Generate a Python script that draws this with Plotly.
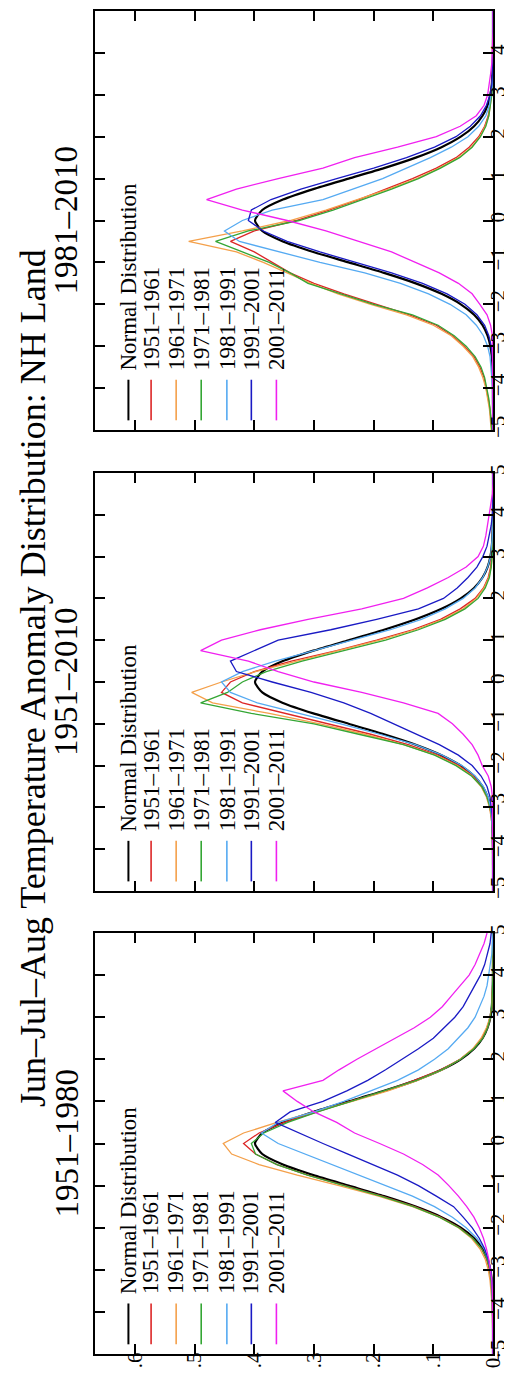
import plotly.graph_objects as go

# ---------------- data ----------------
temps = [-5, -4.75, -4.5, -4.25, -4, -3.75, -3.5, -3.25, -3, -2.75, -2.5, -2.25, -2, -1.75, -1.5,
         -1.25, -1, -0.75, -0.5, -0.25, 0, 0.25, 0.5, 0.75, 1, 1.25, 1.5, 1.75, 2, 2.25, 2.5,
         2.75, 3, 3.25, 3.5, 3.75, 4, 4.25, 4.5, 4.75, 5]

normal_dist = [0, 0, 0, 0.0001, 0.0001, 0.0004, 0.0009, 0.002, 0.0044, 0.0091, 0.0175, 0.0317, 0.054,
               0.0863, 0.1295, 0.1826, 0.242, 0.3011, 0.3521, 0.3867, 0.3989, 0.3867, 0.3521, 0.3011,
               0.242, 0.1826, 0.1295, 0.0863, 0.054, 0.0317, 0.0175, 0.0091, 0.0044, 0.002, 0.0009,
               0.0004, 0.0001, 0.0001, 0, 0, 0]

# Panel "1951-1980"
base1980_1951_1961 = [0, 0, 0, 0, 0.001, 0.001, 0.002, 0.003, 0.006, 0.011, 0.019, 0.034, 0.056, 0.088,
                      0.131, 0.186, 0.248, 0.310, 0.362, 0.398, 0.418, 0.392, 0.350, 0.297, 0.240, 0.181,
                      0.132, 0.088, 0.055, 0.033, 0.018, 0.009, 0.004, 0.002, 0.001, 0, 0, 0, 0, 0, 0]
base1980_1961_1971 = [0, 0, 0, 0.001, 0.001, 0.002, 0.003, 0.005, 0.008, 0.013, 0.022, 0.036, 0.058, 0.090,
                      0.135, 0.192, 0.258, 0.328, 0.392, 0.438, 0.452, 0.418, 0.362, 0.298, 0.236, 0.176,
                      0.126, 0.085, 0.055, 0.034, 0.020, 0.011, 0.005, 0.002, 0.001, 0, 0, 0, 0, 0, 0]
base1980_1971_1981 = [0, 0, 0, 0, 0.001, 0.001, 0.002, 0.003, 0.005, 0.010, 0.019, 0.034, 0.057, 0.090,
                      0.133, 0.188, 0.250, 0.311, 0.362, 0.398, 0.405, 0.384, 0.344, 0.294, 0.238, 0.181,
                      0.128, 0.086, 0.054, 0.032, 0.017, 0.009, 0.004, 0.002, 0.001, 0, 0, 0, 0, 0, 0]
base1980_1981_1991 = [0, 0, 0, 0, 0, 0.001, 0.001, 0.002, 0.004, 0.008, 0.015, 0.027, 0.045, 0.068, 0.098,
                      0.135, 0.180, 0.225, 0.268, 0.315, 0.360, 0.388, 0.360, 0.300, 0.250, 0.205, 0.160,
                      0.125, 0.098, 0.075, 0.058, 0.042, 0.030, 0.022, 0.015, 0.010, 0.007, 0.004, 0.002,
                      0.001, 0]
base1980_1991_2001 = [0, 0, 0, 0, 0, 0, 0.001, 0.002, 0.004, 0.008, 0.014, 0.023, 0.035, 0.050, 0.066,
                      0.095, 0.125, 0.160, 0.200, 0.243, 0.285, 0.325, 0.365, 0.340, 0.285, 0.245, 0.210,
                      0.180, 0.152, 0.125, 0.100, 0.082, 0.064, 0.050, 0.040, 0.030, 0.021, 0.014, 0.009,
                      0.005, 0.003]
base1980_2001_2011 = [0, 0, 0, 0, 0, 0, 0.001, 0.002, 0.004, 0.007, 0.011, 0.016, 0.023, 0.032, 0.044,
                      0.058, 0.074, 0.092, 0.118, 0.150, 0.190, 0.232, 0.262, 0.300, 0.328, 0.352, 0.285,
                      0.258, 0.228, 0.196, 0.165, 0.132, 0.105, 0.085, 0.070, 0.055, 0.040, 0.030, 0.022,
                      0.015, 0.010]

# Panel "1951-2010"
base2010_1951_1961 = [0, 0, 0, 0, 0, 0, 0.001, 0.002, 0.005, 0.010, 0.019, 0.033, 0.057, 0.092, 0.142,
                      0.205, 0.275, 0.350, 0.420, 0.455, 0.440, 0.400, 0.338, 0.262, 0.195, 0.135, 0.088,
                      0.055, 0.030, 0.016, 0.008, 0.004, 0.002, 0.001, 0, 0, 0, 0, 0, 0, 0]
base2010_1961_1971 = [0, 0, 0, 0, 0, 0, 0.001, 0.003, 0.006, 0.011, 0.020, 0.035, 0.060, 0.096, 0.150,
                      0.215, 0.290, 0.375, 0.470, 0.505, 0.455, 0.398, 0.330, 0.258, 0.190, 0.130, 0.084,
                      0.050, 0.028, 0.015, 0.007, 0.003, 0.001, 0, 0, 0, 0, 0, 0, 0, 0]
base2010_1971_1981 = [0, 0, 0, 0, 0, 0, 0.001, 0.002, 0.005, 0.010, 0.019, 0.036, 0.062, 0.098, 0.150,
                      0.225, 0.300, 0.405, 0.490, 0.445, 0.420, 0.380, 0.320, 0.250, 0.180, 0.125, 0.080,
                      0.047, 0.025, 0.013, 0.006, 0.003, 0.001, 0, 0, 0, 0, 0, 0, 0, 0]
base2010_1981_1991 = [0, 0, 0, 0, 0, 0, 0.001, 0.002, 0.004, 0.008, 0.016, 0.030, 0.052, 0.085, 0.130,
                      0.190, 0.255, 0.325, 0.395, 0.440, 0.455, 0.420, 0.365, 0.300, 0.235, 0.172, 0.120,
                      0.080, 0.050, 0.030, 0.017, 0.009, 0.004, 0.002, 0.001, 0, 0, 0, 0, 0, 0]
base2010_1991_2001 = [0, 0, 0, 0, 0, 0, 0, 0.001, 0.003, 0.005, 0.010, 0.020, 0.035, 0.058, 0.090, 0.128,
                      0.168, 0.205, 0.250, 0.305, 0.370, 0.430, 0.440, 0.400, 0.360, 0.272, 0.195, 0.125,
                      0.083, 0.060, 0.042, 0.027, 0.017, 0.010, 0.006, 0.003, 0.001, 0, 0, 0, 0]
base2010_2001_2011 = [0, 0, 0, 0, 0, 0, 0, 0, 0, 0.001, 0.003, 0.008, 0.018, 0.025, 0.035, 0.050, 0.068,
                      0.092, 0.150, 0.220, 0.300, 0.360, 0.410, 0.490, 0.455, 0.390, 0.310, 0.220, 0.150,
                      0.110, 0.075, 0.045, 0.025, 0.016, 0.012, 0.009, 0.006, 0.003, 0.001, 0, 0]

# Panel "1981-2010"
base8110_1951_1961 = [0.002, 0.003, 0.005, 0.008, 0.011, 0.015, 0.022, 0.032, 0.048, 0.068, 0.095, 0.140,
                      0.195, 0.250, 0.300, 0.340, 0.370, 0.400, 0.440, 0.400, 0.330, 0.275, 0.225, 0.180,
                      0.135, 0.095, 0.062, 0.040, 0.024, 0.014, 0.008, 0.005, 0.003, 0.001, 0, 0, 0, 0, 0,
                      0, 0]
base8110_1961_1971 = [0.003, 0.004, 0.006, 0.009, 0.012, 0.017, 0.024, 0.034, 0.050, 0.070, 0.100, 0.145,
                      0.205, 0.260, 0.305, 0.345, 0.385, 0.430, 0.510, 0.420, 0.340, 0.280, 0.228, 0.175,
                      0.128, 0.090, 0.058, 0.036, 0.022, 0.013, 0.007, 0.004, 0.002, 0.001, 0, 0, 0, 0, 0,
                      0, 0]
base8110_1971_1981 = [0.002, 0.003, 0.005, 0.007, 0.010, 0.014, 0.020, 0.030, 0.045, 0.065, 0.092, 0.135,
                      0.200, 0.255, 0.310, 0.340, 0.375, 0.420, 0.465, 0.410, 0.325, 0.268, 0.218, 0.170,
                      0.125, 0.088, 0.056, 0.035, 0.021, 0.012, 0.007, 0.004, 0.002, 0.001, 0, 0, 0, 0, 0,
                      0, 0]
base8110_1981_1991 = [0, 0, 0, 0, 0.001, 0.002, 0.003, 0.005, 0.009, 0.016, 0.028, 0.045, 0.072, 0.108,
                      0.155, 0.215, 0.290, 0.360, 0.425, 0.450, 0.420, 0.370, 0.285, 0.235, 0.185, 0.145,
                      0.105, 0.070, 0.042, 0.024, 0.012, 0.006, 0.003, 0.001, 0, 0, 0, 0, 0, 0, 0]
base8110_1991_2001 = [0, 0, 0, 0, 0, 0, 0, 0.001, 0.003, 0.007, 0.014, 0.027, 0.047, 0.077, 0.118, 0.170,
                      0.230, 0.290, 0.345, 0.385, 0.410, 0.405, 0.372, 0.322, 0.262, 0.200, 0.145, 0.098,
                      0.062, 0.038, 0.021, 0.011, 0.005, 0.002, 0.001, 0, 0, 0, 0, 0, 0]
base8110_2001_2011 = [0, 0, 0, 0, 0, 0, 0, 0, 0, 0.001, 0.004, 0.010, 0.022, 0.035, 0.058, 0.090, 0.130,
                      0.170, 0.225, 0.280, 0.345, 0.420, 0.480, 0.430, 0.360, 0.285, 0.232, 0.160, 0.095,
                      0.055, 0.028, 0.015, 0.009, 0.006, 0.004, 0.002, 0.001, 0, 0, 0, 0]

series_names = ["Normal Distribution", "1951\u20131961", "1961\u20131971", "1971\u20131981",
                "1981\u20131991", "1991\u20132001", "2001\u20132011"]
series_colors = ["#000000", "#dc2626", "#f4a04a", "#34a634", "#55aaf2", "#1a1ac4", "#f020f0"]
series_widths = [2.2, 1.3, 1.3, 1.3, 1.3, 1.3, 1.3]

panel_titles = ["1951\u20131980", "1951\u20132010", "1981\u20132010"]
panel_series = [
    [normal_dist, base1980_1951_1961, base1980_1961_1971, base1980_1971_1981,
     base1980_1981_1991, base1980_1991_2001, base1980_2001_2011],
    [normal_dist, base2010_1951_1961, base2010_1961_1971, base2010_1971_1981,
     base2010_1981_1991, base2010_1991_2001, base2010_2001_2011],
    [normal_dist, base8110_1951_1961, base8110_1961_1971, base8110_1971_1981,
     base8110_1981_1991, base8110_1991_2001, base8110_2001_2011],
]

density_ticks = [0, 0.1, 0.2, 0.3, 0.4, 0.5, 0.6]
density_labels = ["0.", ".1", ".2", ".3", ".4", ".5", ".6"]
temp_ticks = [-5, -4, -3, -2, -1, 0, 1, 2, 3, 4, 5]
temp_labels = ["\u22125", "\u22124", "\u22123", "\u22122", "\u22121", "0", "1", "2", "3", "4", "5"]

main_title = "Jun\u2013Jul\u2013Aug Temperature Anomaly Distribution: NH Land"

# ---------------- layout constants ----------------
W, H = 512, 1382
FONT = "Liberation Serif, Times New Roman, serif"
x_domain = [87 / W, 485 / W]
panel_px = [(925, 1346), (465, 883), (3, 422)]   # (top, bottom) in pixels, panels 1..3
legend_x = [0.611, 0.573, 0.531, 0.489, 0.446, 0.405, 0.363]

fig = go.Figure()
annotations = []
shapes = []

for p in range(3):
    sfx = "" if p == 0 else str(p + 1)
    xa, ya = "x" + sfx, "y" + sfx
    for k in range(7):
        fig.add_trace(go.Scatter(
            x=panel_series[p][k], y=temps, xaxis=xa, yaxis=ya, mode="lines",
            line=dict(color=series_colors[k], width=series_widths[k],
                      shape="spline" if k == 0 else "linear", smoothing=0.6),
            name=series_names[k], showlegend=False, hoverinfo="skip"))
    top, bot = panel_px[p]
    fig.layout["xaxis" + sfx] = dict(
        domain=x_domain, anchor=ya, range=[0.667, 0], tickmode="array",
        tickvals=density_ticks, ticktext=density_labels, showticklabels=(p == 0),
        tickangle=-90, ticks="inside", ticklen=10, tickwidth=2, tickcolor="black",
        ticklabelstandoff=-12,
        showline=True, linewidth=2, linecolor="black", mirror="allticks",
        showgrid=False, zeroline=False, fixedrange=True,
        tickfont=dict(family=FONT, size=21, color="black"))
    fig.layout["yaxis" + sfx] = dict(
        domain=[1 - bot / H, 1 - top / H], anchor=xa, side="right", range=[-5, 5],
        tickmode="array", tickvals=temp_ticks, ticktext=temp_labels, tickangle=-90,
        ticks="inside", ticklen=10, tickwidth=2, tickcolor="black",
        ticklabelstandoff=-15,
        showline=True, linewidth=2, linecolor="black", mirror="allticks",
        showgrid=False, zeroline=False, fixedrange=True,
        tickfont=dict(family=FONT, size=21, color="black"))
    # panel subtitle
    annotations.append(dict(
        text=panel_titles[p], xref="paper", yref="paper", x=58 / W,
        y=1 - (top + bot) / 2 / H, xanchor="center", yanchor="middle",
        textangle=-90, showarrow=False, font=dict(family=FONT, size=33, color="black")))
    # legend (rotated)
    for k in range(7):
        annotations.append(dict(
            text=series_names[k], xref=xa, yref=ya, x=legend_x[k], y=-3.62,
            xanchor="center", yanchor="bottom", textangle=-90, showarrow=False,
            font=dict(family=FONT, size=23, color="black")))
        shapes.append(dict(
            type="line", xref=xa, yref=ya, x0=legend_x[k], x1=legend_x[k], y0=-3.8, y1=-4.77,
            line=dict(color=series_colors[k], width=2 if k == 0 else 1.6)))

annotations.append(dict(
    text=main_title, xref="paper", yref="paper", x=25 / W, y=1 - 670 / H,
    xanchor="center", yanchor="middle", textangle=-90, showarrow=False,
    font=dict(family=FONT, size=36, color="black")))

fig.update_layout(
    width=W, height=H, margin=dict(l=0, r=0, t=0, b=0),
    paper_bgcolor="white", plot_bgcolor="white", showlegend=False,
    annotations=annotations, shapes=shapes, template="none")

fig.write_html("out.html")
